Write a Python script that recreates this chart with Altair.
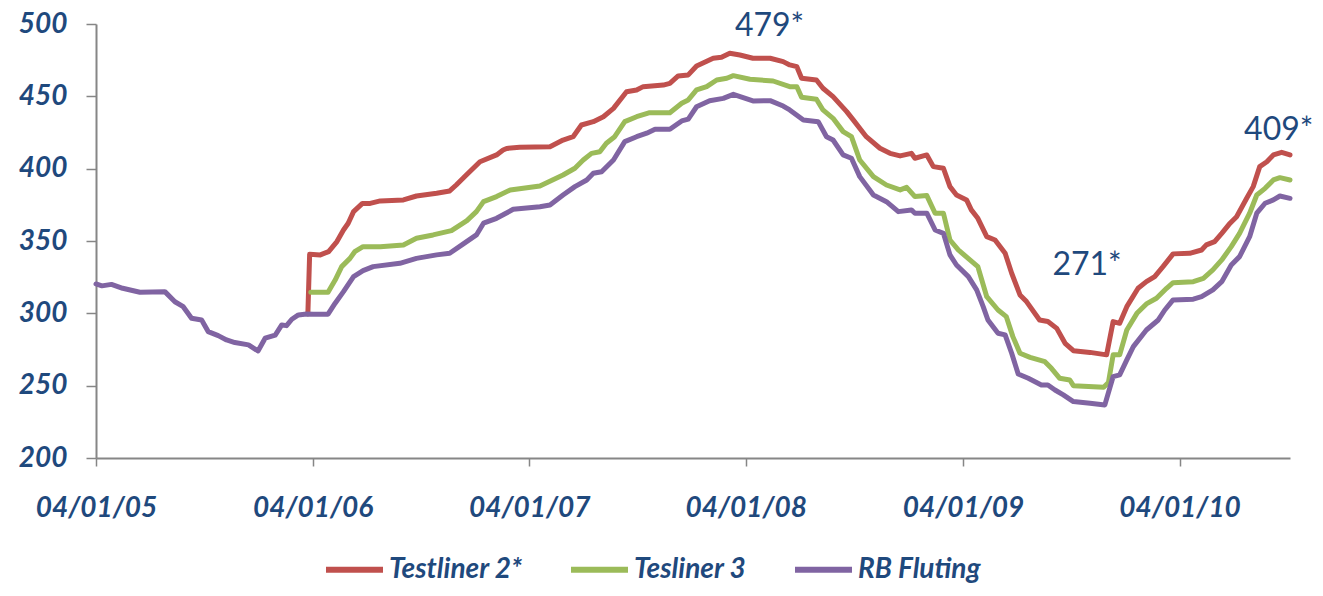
import altair as alt
import pandas as pd

# ---------------- data ----------------
base_date = "2005-01-04"          # day 0 of every *_days list
x_end_day = 2012                  # last day shown on the x axis

series_names = ["Testliner 2*", "Tesliner 3", "RB Fluting"]
series_colors = ["#C0504D", "#9BBB59", "#8064A2"]

tl2_days = [357, 360, 378, 392, 406, 417, 425, 434, 449, 462,
            479, 518, 540, 574, 596, 607, 624, 647, 675, 686,
            692, 714, 765, 787, 804, 818, 838, 855, 872, 894,
            911, 922, 956, 967, 981, 998, 1012, 1040, 1054, 1068,
            1085, 1107, 1136, 1158, 1169, 1181, 1189, 1214, 1225, 1242,
            1265, 1276, 1298, 1321, 1338, 1355, 1374, 1380, 1400, 1411,
            1428, 1439, 1450, 1467, 1475, 1486, 1501, 1515, 1532, 1543,
            1557, 1568, 1590, 1604, 1619, 1633, 1647, 1675, 1703, 1714,
            1725, 1737, 1756, 1770, 1784, 1798, 1815, 1843, 1863, 1871,
            1885, 1897, 1911, 1922, 1939, 1950, 1961, 1973, 1984, 1998,
            2012]
tl2_vals = [299.6, 340.8, 340.4, 342.7, 349.6, 357.6, 362.3, 370.3, 376, 376,
            377.7, 378.4, 381.1, 383, 384.6, 388.7, 395.6, 404.8, 409.5, 412.9,
            414, 414.8, 415.2, 419.8, 422.1, 430.2, 432.5, 435.9, 441.7, 453.2,
            454.4, 456.7, 457.8, 459, 464.1, 464.8, 471, 476.3, 477, 479.8,
            478.6, 476.3, 476.3, 474, 471.7, 470.5, 462.5, 461.3, 455.6, 449.8,
            439.4, 433.7, 422.1, 414.1, 410.6, 408.8, 410.6, 407.2, 409.5, 401.4,
            400.3, 387.6, 381.8, 378.4, 371.5, 365.7, 353, 350.7, 341.5, 327.7,
            312.7, 308.1, 295.4, 294.3, 289.6, 279.3, 274.2, 273, 271.3, 294.3,
            293.1, 304.6, 317.3, 321.9, 325.4, 332.3, 341.1, 341.5, 343.8, 347.3,
            349.6, 355.3, 362.3, 366.8, 379.5, 387.6, 401.4, 404.8, 409.5, 411.3,
            409.5]

tl3_days = [362, 391, 403, 414, 428, 436, 450, 479, 518, 540,
            568, 599, 625, 641, 653, 675, 698, 748, 787, 807,
            821, 835, 849, 860, 874, 891, 911, 933, 967, 987,
            998, 1012, 1029, 1046, 1063, 1074, 1102, 1141, 1169, 1181,
            1189, 1214, 1225, 1242, 1259, 1273, 1287, 1310, 1332, 1355,
            1366, 1380, 1400, 1414, 1428, 1439, 1453, 1486, 1501, 1520,
            1534, 1545, 1557, 1574, 1599, 1610, 1624, 1641, 1647, 1698,
            1706, 1714, 1725, 1737, 1754, 1770, 1787, 1804, 1815, 1849,
            1866, 1882, 1897, 1913, 1927, 1944, 1956, 1970, 1984, 1995,
            2012]
tl3_vals = [314.6, 314.6, 323, 332.3, 338, 342.6, 346.1, 346.1, 347.3, 351.9,
            354.2, 357.2, 364.1, 370.3, 377.2, 380.7, 385.3, 388, 395.6, 400.3,
            406, 410.6, 411.7, 417.6, 422.1, 432.5, 435.9, 438.7, 438.7, 445.2,
            447.5, 454.4, 456.7, 461.3, 462.5, 464.3, 461.8, 460.6, 456.7, 456.7,
            449.3, 448, 440.6, 434.8, 425.6, 422.1, 406, 394.5, 388.7, 385.3,
            387.1, 380.7, 381.4, 369.2, 369.2, 350.7, 343.8, 332.3, 311.5, 302.3,
            297.7, 283.9, 272.4, 269.6, 266.6, 262, 255.1, 253.9, 250, 248.9,
            252.1, 271.3, 271.3, 288.5, 300, 306.5, 310.4, 317.3, 321.2, 321.9,
            324.2, 330, 336.9, 346.1, 355.3, 369.2, 381.8, 386.4, 392.2, 393.8,
            392.2]

rb_days = [0, 10, 26, 45, 74, 116, 133, 147, 161, 178,
           189, 206, 220, 234, 257, 273, 285, 302, 313, 321,
           330, 341, 355, 366, 391, 403, 417, 434, 450, 467,
           512, 540, 574, 596, 619, 641, 653, 675, 703, 748,
           765, 787, 807, 827, 838, 852, 872, 891, 911, 928,
           942, 967, 987, 998, 1012, 1034, 1057, 1074, 1107, 1136,
           1158, 1169, 1192, 1217, 1231, 1242, 1259, 1273, 1287, 1310,
           1332, 1352, 1374, 1380, 1400, 1414, 1428, 1439, 1450, 1470,
           1484, 1495, 1503, 1520, 1532, 1543, 1554, 1571, 1593, 1604,
           1616, 1630, 1647, 1675, 1700, 1714, 1725, 1737, 1748, 1770,
           1790, 1801, 1815, 1849, 1863, 1882, 1897, 1913, 1927, 1944,
           1956, 1970, 1984, 1995, 2012]
rb_vals = [320.3, 319, 320, 317.3, 314.6, 315, 308, 304.6, 296.6, 295.4,
           287.4, 284.6, 281.6, 279.8, 278.2, 274, 282.8, 285, 292, 291.5,
           295.9, 298.9, 299.6, 299.4, 299.4, 307, 315, 325.4, 329.5, 332.3,
           334.6, 338, 340.4, 341.5, 348, 354.2, 362.3, 365.7, 371.9, 373.7,
           374.9, 381.8, 387.6, 392.2, 396.8, 397.9, 406, 418.7, 422.1, 424.5,
           427.2, 427.2, 433, 434.3, 442.8, 447, 448.6, 451.4, 446.8, 447,
           443.3, 440.6, 433.7, 432.5, 422.1, 419.8, 409.5, 407.2, 394.5, 381.8,
           377.2, 370.3, 371.5, 369.2, 369.2, 357.6, 355.3, 340.4, 333.4, 325.4,
           316.2, 304.6, 295.4, 286.2, 285.1, 272.4, 258.1, 255.1, 250.5, 250.5,
           247, 243.6, 239, 237.9, 236.7, 256.3, 257.5, 267.8, 277, 288.5,
           295.4, 302.3, 309.3, 309.8, 311.5, 316.2, 321.9, 333.4, 339.2, 353,
           369.2, 376.1, 378.4, 381.1, 379.5]

note_texts = ["479*", "271*", "409*"]
note_days = [1135, 1670, 1993]
note_vals = [498.5, 333.5, 426.7]

x_tick_dates = ["2005-01-04", "2006-01-04", "2007-01-04",
                "2008-01-04", "2009-01-04", "2010-01-04"]
y_ticks = [200, 250, 300, 350, 400, 450, 500]

# ---------------- build tables ----------------
base = pd.Timestamp(base_date)


def frame(name, days, vals):
    return pd.DataFrame({
        "date": base + pd.to_timedelta(days, unit="D"),
        "value": vals,
        "series": name,
    })


lines_df = pd.concat([
    frame(series_names[0], tl2_days, tl2_vals),
    frame(series_names[1], tl3_days, tl3_vals),
    frame(series_names[2], rb_days, rb_vals),
], ignore_index=True)
lines_df["order"] = lines_df["series"].map({n: i for i, n in enumerate(series_names)})

notes_df = pd.DataFrame({
    "date": base + pd.to_timedelta(note_days, unit="D"),
    "value": note_vals,
    "label": note_texts,
})


def dt(ts):
    ts = pd.Timestamp(ts)
    return alt.DateTime(year=ts.year, month=ts.month, date=ts.day)


end_date = base + pd.Timedelta(days=x_end_day)

LABEL_COLOR = "#1F497D"
AXIS_COLOR = "#868686"
FONT = "Lato"

x_enc = alt.X(
    "date:T",
    scale=alt.Scale(domain=[dt(base), dt(end_date)]),
    axis=alt.Axis(
        values=[dt(d) for d in x_tick_dates],
        format="%d/%m/%y",
        title=None,
        grid=False,
        labelFont=FONT,
        labelFontSize=28,
        labelFontWeight="bold",
        labelFontStyle="italic",
        labelColor=LABEL_COLOR,
        labelPadding=28,
        labelFlush=False,
        labelOverlap=False,
        tickSize=8,
        tickColor=AXIS_COLOR,
        tickWidth=1.5,
        domainColor=AXIS_COLOR,
        domainWidth=2,
    ),
)

y_enc = alt.Y(
    "value:Q",
    scale=alt.Scale(domain=[200, 500], nice=False, zero=False),
    axis=alt.Axis(
        values=y_ticks,
        title=None,
        grid=False,
        labelFont=FONT,
        labelFontSize=28,
        labelFontWeight="bold",
        labelFontStyle="italic",
        labelColor=LABEL_COLOR,
        labelPadding=19,
        tickSize=10,
        tickColor=AXIS_COLOR,
        tickWidth=1.5,
        domainColor=AXIS_COLOR,
        domainWidth=2,
    ),
)

lines = alt.Chart(lines_df).mark_line(
    strokeWidth=5, strokeJoin="round", strokeCap="round"
).encode(
    x=x_enc,
    y=y_enc,
    color=alt.Color(
        "series:N",
        scale=alt.Scale(domain=series_names, range=series_colors),
        legend=alt.Legend(
            title=None,
            orient="none",
            legendX=227,
            legendY=514,
            direction="horizontal",
            columns=3,
            padding=0,
            symbolType="stroke",
            symbolSize=3249,
            symbolStrokeWidth=6,
            labelFont=FONT,
            labelFontSize=28,
            labelFontWeight="bold",
            labelFontStyle="italic",
            labelColor=LABEL_COLOR,
            labelOffset=3,
            columnPadding=36,
        ),
    ),
    order="order:Q",
)

notes = alt.Chart(notes_df).mark_text(
    font=FONT, fontSize=32, color=LABEL_COLOR, align="center", baseline="middle"
).encode(
    x="date:T",
    y="value:Q",
    text="label:N",
)

chart = alt.layer(lines, notes).properties(
    width=1194,
    height=434,
    autosize=alt.AutoSizeParams(type="none"),
    padding={"left": 88, "top": 16, "right": 25, "bottom": 130},
    background="white",
).configure_view(stroke=None)

chart.save("out.html", embed_options={"renderer": "svg", "actions": False})
